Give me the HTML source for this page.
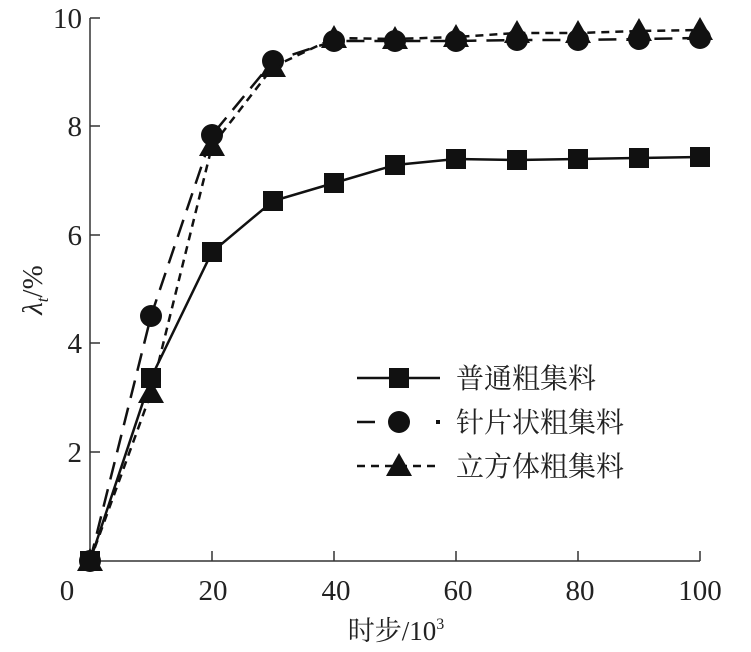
<!DOCTYPE html>
<html><head><meta charset="utf-8"><style>
html,body{margin:0;padding:0;background:#fff;}
svg{display:block;}
text{font-family:"Liberation Serif","Noto Serif CJK SC",serif;fill:#222;}
</style></head><body>
<svg width="751" height="652" viewBox="0 0 751 652" xmlns="http://www.w3.org/2000/svg">
<defs>
<rect id="sq" x="-10" y="-10" width="20" height="20" fill="#111"/>
<circle id="ci" r="11" fill="#111"/>
<polygon id="tr" points="0,-13 13,10 -13,10" fill="#111"/>
</defs>
<g stroke="#333" stroke-width="1.5" fill="none">
<line x1="90" y1="18" x2="90" y2="562"/>
<line x1="90" y1="561" x2="700" y2="561"/>
<line x1="90" y1="18" x2="100" y2="18"/>
<line x1="90" y1="126" x2="100" y2="126"/>
<line x1="90" y1="235" x2="100" y2="235"/>
<line x1="90" y1="343" x2="100" y2="343"/>
<line x1="90" y1="452" x2="100" y2="452"/>
<line x1="212" y1="561" x2="212" y2="551"/>
<line x1="334" y1="561" x2="334" y2="551"/>
<line x1="456" y1="561" x2="456" y2="551"/>
<line x1="578" y1="561" x2="578" y2="551"/>
<line x1="700" y1="561" x2="700" y2="551"/>
</g>
<g font-size="29" text-anchor="end">
<text x="82" y="28">10</text><text x="82" y="136">8</text><text x="82" y="245">6</text><text x="82" y="353">4</text><text x="82" y="462">2</text>
</g>
<g font-size="29" text-anchor="middle">
<text x="67" y="600">0</text><text x="213" y="600">20</text><text x="336" y="600">40</text><text x="458" y="600">60</text><text x="580" y="600">80</text><text x="700" y="600">100</text>
</g>
<text x="396" y="640" font-size="27" text-anchor="middle">时步/10<tspan font-size="16" dy="-11">3</tspan></text>
<text transform="translate(42,290) rotate(-90)" font-size="29" text-anchor="middle"><tspan font-style="italic">λ</tspan><tspan font-size="17" font-style="italic" dy="6">t</tspan><tspan dy="-6">/%</tspan></text>

<polyline fill="none" stroke="#111" stroke-width="2.5" points="90,561 151,378 212,252 273,201 334,183 395,165 456,159 517,160 578,159 639,158 700,157"/>
<polyline fill="none" stroke="#111" stroke-width="2.5" stroke-dasharray="18,10" points="90,561 151,316 212,135 273,61 334,41 395,41 456,41 517,40 578,40 639,39 700,38"/>
<polyline fill="none" stroke="#111" stroke-width="2.5" stroke-dasharray="8,6" points="90,561 151,393 212,146 273,67 334,38 395,39 456,37 517,33 578,33 639,31 700,30"/>
<g>
<use href="#ci" x="90" y="561"/><use href="#ci" x="151" y="316"/><use href="#ci" x="212" y="135"/><use href="#ci" x="273" y="61"/><use href="#ci" x="334" y="41"/><use href="#ci" x="395" y="41"/><use href="#ci" x="456" y="41"/><use href="#ci" x="517" y="40"/><use href="#ci" x="578" y="40"/><use href="#ci" x="639" y="39"/><use href="#ci" x="700" y="38"/>
<use href="#tr" x="90" y="561"/><use href="#tr" x="151" y="393"/><use href="#tr" x="212" y="146"/><use href="#tr" x="273" y="67"/><use href="#tr" x="334" y="38"/><use href="#tr" x="395" y="39"/><use href="#tr" x="456" y="37"/><use href="#tr" x="517" y="33"/><use href="#tr" x="578" y="33"/><use href="#tr" x="639" y="31"/><use href="#tr" x="700" y="30"/>
<use href="#sq" x="90" y="561"/><use href="#sq" x="151" y="378"/><use href="#sq" x="212" y="252"/><use href="#sq" x="273" y="201"/><use href="#sq" x="334" y="183"/><use href="#sq" x="395" y="165"/><use href="#sq" x="456" y="159"/><use href="#sq" x="517" y="160"/><use href="#sq" x="578" y="159"/><use href="#sq" x="639" y="158"/><use href="#sq" x="700" y="157"/>
</g>

<line x1="357" y1="378" x2="440" y2="378" stroke="#111" stroke-width="2.5"/>
<use href="#sq" x="399" y="378"/>
<line x1="357" y1="422" x2="375" y2="422" stroke="#111" stroke-width="2.5"/>
<rect x="436" y="420" width="4" height="4" fill="#111"/>
<use href="#ci" x="399" y="422"/>
<line x1="357" y1="466" x2="440" y2="466" stroke="#111" stroke-width="2.5" stroke-dasharray="8,6"/>
<use href="#tr" x="399" y="466"/>
<g font-size="28">
<text x="456" y="388">普通粗集料</text>
<text x="456" y="432">针片状粗集料</text>
<text x="456" y="476">立方体粗集料</text>
</g>
</svg>
</body></html>
